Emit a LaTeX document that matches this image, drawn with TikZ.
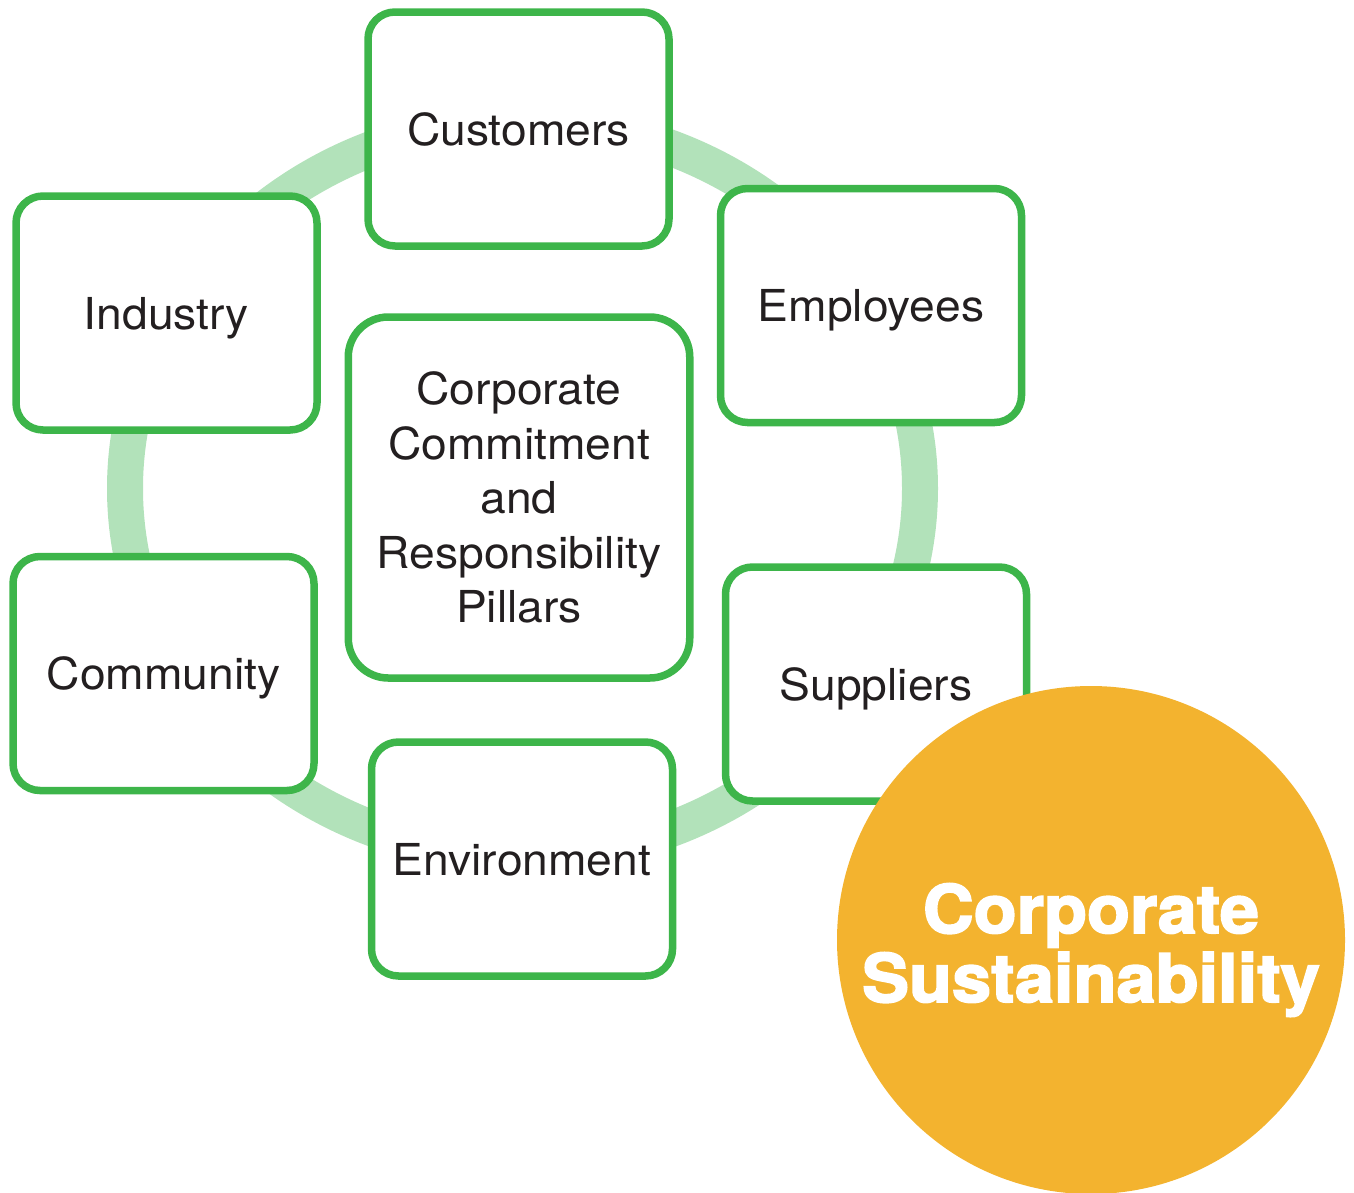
\documentclass[tikz,border=0pt]{standalone}
\usepackage{fontspec}
\setmainfont{TeX Gyre Heros}[FakeStretch=1.05]
\newfontfamily\heavyfont{TeX Gyre Heros}[FakeBold=2.6,FakeStretch=1.05]
\definecolor{pillargreen}{HTML}{3DB54A}
\definecolor{ringgreen}{HTML}{B2E2BA}
\definecolor{sunorange}{HTML}{F3B32F}
\definecolor{ink}{HTML}{231F20}

\begin{document}
\begin{tikzpicture}[x=1pt,y=-1pt,
  ring/.style={draw=ringgreen, line width=36pt},
  pillar/.style={draw=pillargreen, line width=7.5pt, fill=white,
    rounded corners=27pt, minimum width=301pt, minimum height=234pt,
    inner sep=0pt, text height=32pt, text depth=0pt, text=ink,
    font=\fontsize{44}{54.5}\selectfont},
  corebox/.style={pillar, minimum width=341.5pt, minimum height=361pt,
    rounded corners=40pt},
  coretext/.style={align=center, inner sep=0pt, text=ink,
    font=\fontsize{44}{54.5}\selectfont},
  sun/.style={circle, fill=sunorange, minimum size=508pt, inner sep=0pt},
  suntext/.style={align=center, inner sep=0pt, text=white,
    font=\heavyfont\bfseries\fontsize{67}{69}\selectfont}
]
\useasboundingbox (0,0) rectangle (1354,1192);

% ring linking the stakeholder boxes
\draw[ring] (522.5,488.5) ellipse [x radius=397.5pt, y radius=367pt];

% stakeholder boxes
\node[pillar] (customers)   at (518.5,129)   {Customers};
\node[pillar] (employees)   at (871,305.5)   {Employees};
\node[pillar] (suppliers)   at (876,684)     {Suppliers};
\node[pillar] (environment) at (522,859)     {Environment};
\node[pillar] (community)   at (163.5,673.5) {Community};
\node[pillar] (industry)    at (166.5,313)   {Industry};

% central pillar box
\node[corebox] (core) at (519,497.5) {};
\node[coretext] (coretxt) at (core.center)
  {Corporate\\Commitment\\and\\Responsibility\\Pillars};

% sustainability disc
\node[sun] (sustain) at (1091,940) {};
\node[suntext] (sustaintxt) at (1091,950) {Corporate\\Sustainability};
\end{tikzpicture}
\end{document}
